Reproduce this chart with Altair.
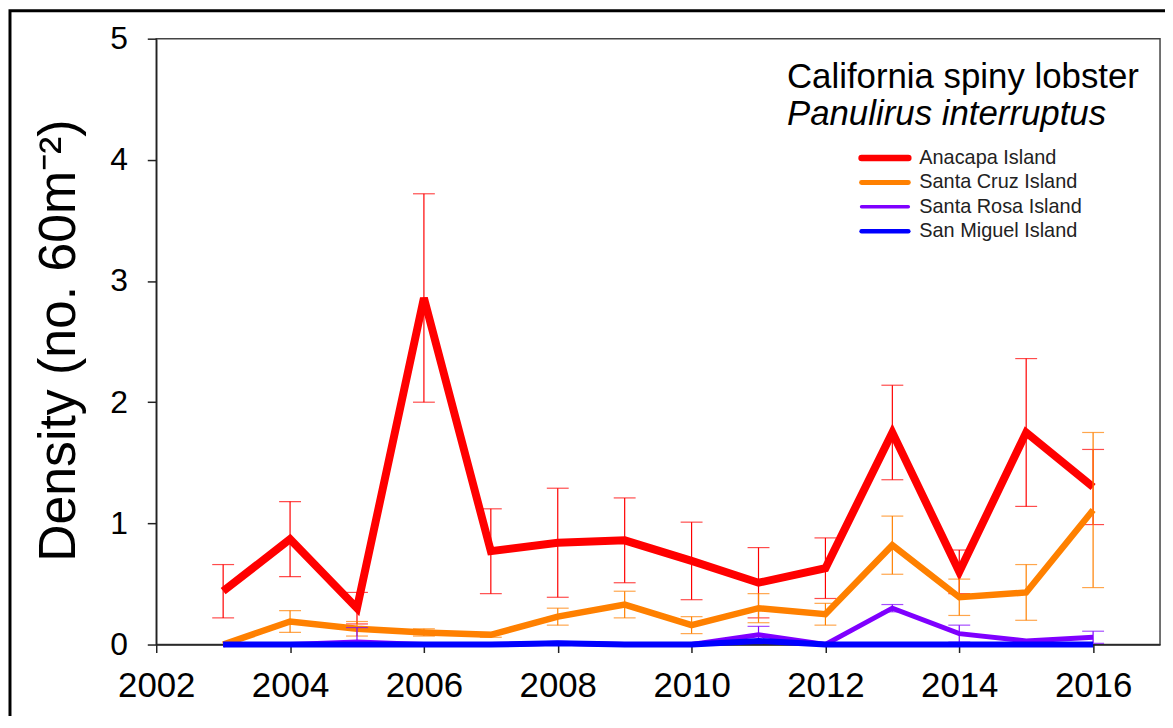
import altair as alt
import pandas as pd

years = list(range(2003, 2017))
islands = ["Anacapa Island", "Santa Cruz Island", "Santa Rosa Island", "San Miguel Island"]
colors = ["#FF0000", "#FF8000", "#7F00FF", "#0000FF"]

anacapa_mean = [0.44, 0.87, 0.30, 2.86, 0.77, 0.84, 0.86, 0.69, 0.51, 0.63, 1.75, 0.60, 1.75, 1.30]
anacapa_se = [0.22, 0.31, 0.13, 0.86, 0.35, 0.45, 0.35, 0.32, 0.29, 0.25, 0.39, 0.18, 0.61, 0.31]
santacruz_mean = [0.00, 0.19, 0.13, 0.10, 0.08, 0.23, 0.33, 0.16, 0.30, 0.25, 0.82, 0.39, 0.43, 1.11]
santacruz_se = [0.00, 0.09, 0.06, 0.03, 0.02, 0.07, 0.11, 0.07, 0.12, 0.09, 0.24, 0.15, 0.23, 0.64]
santarosa_mean = [0.00, 0.00, 0.02, 0.00, 0.00, 0.01, 0.00, 0.00, 0.08, 0.00, 0.30, 0.09, 0.03, 0.06]
santarosa_se = [0.00, 0.00, 0.12, 0.00, 0.00, 0.00, 0.00, 0.00, 0.07, 0.00, 0.03, 0.07, 0.00, 0.05]
sanmiguel_mean = [0.00, 0.00, 0.00, 0.00, 0.00, 0.01, 0.00, 0.00, 0.03, 0.00, 0.00, 0.00, 0.00, 0.00]
sanmiguel_se = [0.00] * 14

x_ticks = list(range(2002, 2017, 2))
y_ticks = [0, 1, 2, 3, 4, 5]
title_line1 = "California spiny lobster"
title_line2 = "Panulirus interruptus"
y_title = "Density (no. 60m\u207b\u00b2)"

means = [anacapa_mean, santacruz_mean, santarosa_mean, sanmiguel_mean]
ses = [anacapa_se, santacruz_se, santarosa_se, sanmiguel_se]
widths = [8, 6.5, 5, 6]

FONT = "Liberation Sans"
W, H = 1009, 609

xscale = alt.Scale(domain=[2002, 2017], nice=False, zero=False)
yscale = alt.Scale(domain=[0, 5], nice=False)

xax = alt.Axis(values=x_ticks, format="d", title=None, grid=False, labelFontSize=35,
               labelFont=FONT, labelColor="black", tickSize=8, tickColor="#222",
               domainColor="#222", domainWidth=1.5, tickWidth=1.5, labelPadding=16,
               labelFlush=False)
yax = alt.Axis(values=y_ticks, format="d", title=y_title, grid=False, labelFontSize=32,
               labelFont=FONT, labelColor="black", tickSize=9, tickColor="#222",
               domainColor="#222", domainWidth=1.5, tickWidth=1.5, labelPadding=20,
               titleFont=FONT, titleFontSize=52, titleFontWeight="normal", titleColor="black",
               titleX=-98, titleY=303, titleAngle=270, titleAlign="center",
               titleBaseline="middle", labelFlush=False)

layers = []
for i, name in enumerate(islands):
    df = pd.DataFrame({"year": years, "mean": means[i], "se": ses[i]})
    df["lo"] = (df["mean"] - df["se"]).clip(lower=0)
    df["hi"] = df["mean"] + df["se"]
    err = df[df["se"] > 0]
    base = alt.Chart(df)
    line = base.mark_line(color=colors[i], strokeWidth=widths[i], strokeJoin="miter",
                          strokeCap="butt").encode(
        x=alt.X("year:Q", scale=xscale, axis=xax),
        y=alt.Y("mean:Q", scale=yscale, axis=yax),
    )
    layers.append(line)
    if len(err):
        eb = alt.Chart(err)
        rule = eb.mark_rule(color=colors[i], strokeWidth=1.2).encode(
            x="year:Q", y="lo:Q", y2="hi:Q")
        cap_lo = eb.mark_tick(color=colors[i], orient="horizontal", size=22, thickness=1.2).encode(
            x="year:Q", y="lo:Q")
        cap_hi = eb.mark_tick(color=colors[i], orient="horizontal", size=22, thickness=1.2).encode(
            x="year:Q", y="hi:Q")
        layers += [rule, cap_lo, cap_hi]

dummy = alt.Chart(pd.DataFrame({"a": [0]}))
t1 = dummy.mark_text(text=title_line1, font=FONT, fontSize=35, align="left",
                     baseline="alphabetic", color="black").encode(
    x=alt.value(634), y=alt.value(50))
t2 = dummy.mark_text(text=title_line2, font=FONT, fontSize=35, fontStyle="italic",
                     align="left", baseline="alphabetic", color="black").encode(
    x=alt.value(634), y=alt.value(87))
layers += [t1, t2]

leg_y0, leg_dy = 120, 24.5
for i, name in enumerate(islands):
    yy = leg_y0 + i * leg_dy
    layers.append(dummy.mark_rule(color=colors[i], strokeWidth=widths[i] - 1.5, strokeCap="round").encode(
        x=alt.value(709), x2=alt.value(756), y=alt.value(yy)))
    layers.append(dummy.mark_text(text=name, font=FONT, fontSize=20, align="left",
                                  baseline="middle", color="#222").encode(
        x=alt.value(767), y=alt.value(yy)))

border = dummy.mark_rect(filled=False, stroke="black", strokeWidth=3).encode(
    x=alt.value(-147), x2=alt.value(1100), y=alt.value(-28), y2=alt.value(800))
layers.append(border)

chart = alt.layer(*layers).properties(
    width=W, height=H,
    autosize=alt.AutoSizeParams(type="none"),
    padding={"left": 149, "top": 29, "right": 5, "bottom": 70},
    background="white",
).configure_view(stroke="#444", strokeWidth=1.5)

chart.save("out.html", embed_options={"renderer": "svg", "actions": False})
